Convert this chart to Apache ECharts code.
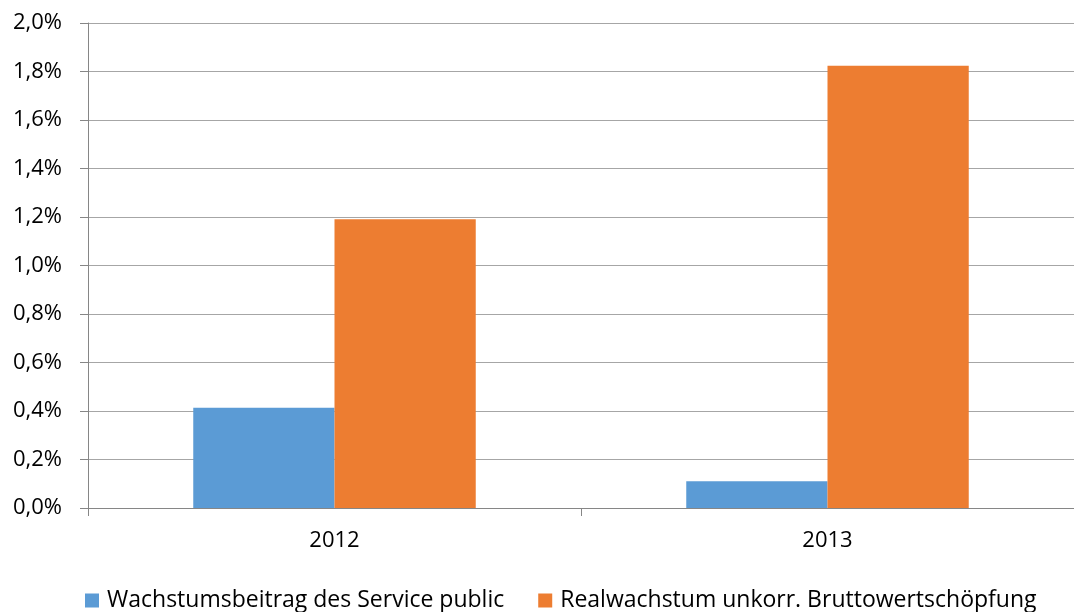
<!DOCTYPE html>
<html>
<head>
<meta charset="utf-8">
<script src="https://cdn.jsdelivr.net/npm/echarts@6/dist/echarts.min.js"></script>
<style>
html,body{margin:0;padding:0;background:#fff;}
#c{width:1074px;height:612px;}
</style>
</head>
<body>
<div id="c"></div>
<script>
const categories = ['2012', '2013'];
const seriesNames = ['Wachstumsbeitrag des Service public', 'Realwachstum unkorr. Bruttowertschöpfung'];
const serviceBeitrag = [0.413, 0.110];
const realwachstum = [1.191, 1.824];
const yTicks = { min: 0, max: 2.0, interval: 0.2 };

const FONT = 'Open Sans';
const chart = echarts.init(document.getElementById('c'), null, { renderer: 'canvas' });
chart.setOption({
  animation: false,
  backgroundColor: '#ffffff',
  textStyle: { fontFamily: FONT },
  grid: { left: 88, top: 23, width: 995.4, height: 485, containLabel: false },
  legend: {
    data: seriesNames,
    left: 80, top: 584,
    icon: 'rect', itemWidth: 14, itemHeight: 14, itemGap: 34,
    textStyle: { fontFamily: FONT, fontSize: 23, color: '#000', padding: [0, 0, 0, 3] }
  },
  xAxis: {
    type: 'category',
    data: categories,
    axisLine: { lineStyle: { color: '#868686', width: 1 } },
    axisTick: { show: true, length: 8, lineStyle: { color: '#868686' } },
    axisLabel: { fontFamily: FONT, fontSize: 22, color: '#000', margin: 22 }
  },
  yAxis: {
    type: 'value',
    min: yTicks.min, max: yTicks.max, interval: yTicks.interval,
    axisLine: { show: true, lineStyle: { color: '#868686', width: 1 } },
    axisTick: { show: true, length: 8, lineStyle: { color: '#868686' } },
    splitLine: { lineStyle: { color: '#A6A6A6', width: 1 } },
    axisLabel: {
      fontFamily: FONT, fontSize: 22, color: '#000', margin: 26,
      formatter: v => v.toFixed(1).replace('.', ',') + '%'
    }
  },
  series: [
    { name: seriesNames[0], type: 'bar', data: serviceBeitrag, barGap: '0%', barCategoryGap: '42.7%',
      itemStyle: { color: '#5B9BD5' } },
    { name: seriesNames[1], type: 'bar', data: realwachstum, barGap: '0%', barCategoryGap: '42.7%',
      itemStyle: { color: '#ED7D31' } }
  ]
});
</script>
</body>
</html>
